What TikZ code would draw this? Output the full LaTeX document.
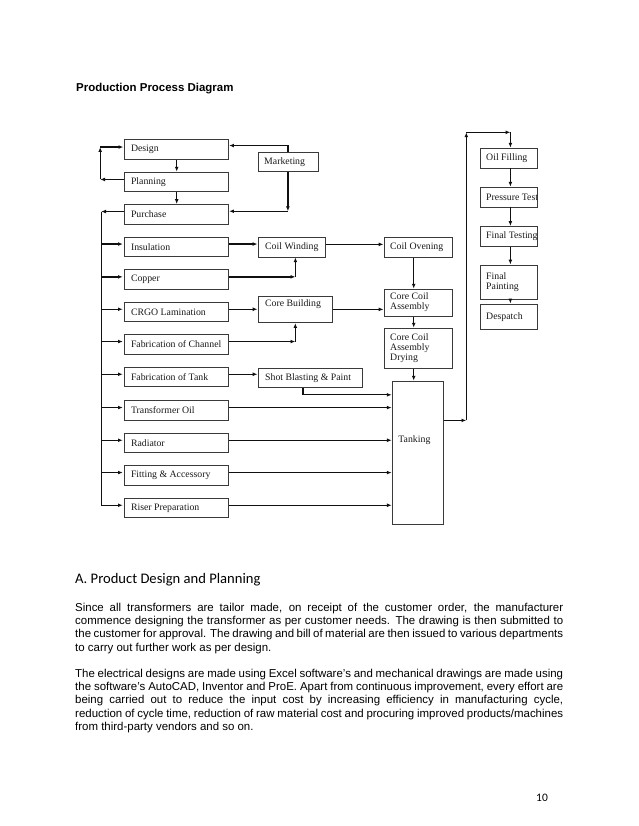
\documentclass[tikz,border=0pt]{standalone}
\usepackage{fontspec}
\setmainfont{Liberation Serif}
\newfontfamily\arialf{Liberation Sans}
\newfontfamily\calib{Carlito}
\usetikzlibrary{arrows.meta,calc}
\definecolor{boxc}{HTML}{3A3A3A}
\definecolor{linec}{HTML}{101010}
\definecolor{txtc}{HTML}{1A1A1A}
\newcommand\diafont{\fontsize{9.8}{10}\selectfont}
\newcommand\bx[6]{\node[box, minimum width=#4pt, minimum height=#5pt, label={[lab]west:{#6}}] (#1) at (#2,-#3) {};}
\newcommand\rbx[6]{\node[box, minimum width=#4pt, minimum height=#5pt, label={[rlab]west:{#6}}] (#1) at (#2,-#3) {};}
\begin{document}
\begin{tikzpicture}[x=1pt,y=1pt,
  box/.style={draw=boxc, line width=0.8pt, rectangle, inner sep=0pt, anchor=north west},
  lab/.style={anchor=west, xshift=6.5pt, inner sep=0pt, font=\diafont, text=txtc, align=left},
  rlab/.style={lab, xshift=-0.5pt},
  ln/.style={draw=linec, line width=1.3pt},
  arr/.style={ln, -{Latex[length=4.8pt,width=3.8pt]}},
  up/.style={transform canvas={yshift=2.7pt}}]
\fill[white] (0,0) rectangle (638,-826);
\useasboundingbox (0,0) rectangle (638,-826);

% texts
\node[anchor=base west, inner sep=0pt, font=\arialf\bfseries\fontsize{11.46}{13.2}\selectfont] (title) at (76,-92) {Production Process Diagram};
\node[anchor=base west, inner sep=0pt, font=\calib\fontsize{14.6}{17}\selectfont] (hA) at (75,-583) {A. Product Design and Planning};
\node[anchor=base west, inner sep=0pt, font=\arialf\fontsize{11.46}{13.2}\selectfont] (p1) at (75,-611.5) {\parbox[t]{488pt}{%
\makebox[\linewidth][s]{Since all transformers are tailor made, on receipt of the customer order, the manufacturer}\\
\makebox[\linewidth][s]{commence designing the transformer as per customer needs. The drawing is then submitted to}\\
\makebox[\linewidth][s]{the customer for approval. The drawing and bill of material are then issued to various departments}\\
to carry out further work as per design.}};
\node[anchor=base west, inner sep=0pt, font=\arialf\fontsize{11.46}{13.2}\selectfont] (p2) at (75,-677.5) {\parbox[t]{488pt}{%
\makebox[\linewidth][s]{The electrical designs are made using Excel software’s and mechanical drawings are made using}\\
\makebox[\linewidth][s]{the software’s AutoCAD, Inventor and ProE. Apart from continuous improvement, every effort are}\\
\makebox[\linewidth][s]{being carried out to reduce the input cost by increasing efficiency in manufacturing cycle,}\\
\makebox[\linewidth][s]{reduction of cycle time, reduction of raw material cost and procuring improved products/machines}\\
from third-party vendors and so on.}};
\node[anchor=base east, inner sep=0pt, font=\calib\fontsize{11.46}{13.2}\selectfont] (pg) at (548,-801) {10};

% left column
\bx{des}{124.3}{139.3}{104}{19.7}{Design}
\bx{pla}{124.3}{171.7}{104}{19.7}{Planning}
\bx{pur}{124.3}{204}{104}{19.7}{Purchase}
\bx{ins}{124.3}{236.5}{104}{19.7}{Insulation}
\bx{cop}{124.3}{269.3}{104}{19.7}{Copper}
\bx{crgo}{124.3}{301.7}{104}{19.7}{CRGO Lamination}
\bx{chan}{124.3}{334}{104}{19.7}{Fabrication of Channel}
\bx{ftank}{124.3}{366.7}{104}{19.7}{Fabrication of Tank}
\bx{toil}{124.3}{400}{104}{19.7}{Transformer Oil}
\bx{rad}{124.3}{432.7}{104}{19.7}{Radiator}
\bx{fit}{124.3}{465}{104}{19.7}{Fitting \& Accessory}
\bx{ris}{124.3}{497.7}{104}{19.7}{Riser Preparation}

% middle
\bx{mkt}{257.5}{151.7}{60}{19.8}{Marketing}
\node[box, minimum width=67.5pt, minimum height=19.9pt, label={[lab, xshift=1pt]west:Coil Winding}] (cw) at (257.5,-236.7) {};
\bx{cov}{383.5}{237.3}{68}{19.4}{Coil Ovening}
\node[box, minimum width=74.8pt, minimum height=26.6pt, label={[lab, anchor=north west, xshift=1pt, yshift=-3.5pt]north west:Core Building}] (cb) at (257.5,-295.7) {};
\bx{cca}{383.5}{288.7}{68}{27}{Core Coil\\Assembly}
\bx{dry}{383.5}{327.7}{68}{40}{Core Coil\\Assembly\\Drying}
\node[box, minimum width=104.2pt, minimum height=19.6pt, label={[lab, xshift=1pt]west:Shot Blasting \& Paint}] (shot) at (257.5,-367.7) {};
\node[box, minimum width=51.6pt, minimum height=143.6pt, label={[lab, anchor=center, xshift=-10pt, yshift=12.5pt]center:Tanking}] (tank) at (391.7,-380.7) {};

% right column
\rbx{oil}{480}{147.7}{56.7}{20}{Oil Filling}
\rbx{prt}{480}{186.7}{56.7}{20}{Pressure Test}
\rbx{ftest}{480}{226}{56.7}{19.7}{Final Testing}
\rbx{fpaint}{480}{264.5}{56.7}{34}{Final\\Painting}
\rbx{desp}{480}{303.5}{56.7}{25.5}{Despatch}

% connectors
\coordinate (bus) at (101.2,0);
\draw[arr] (des.south) -- (pla.north);
\draw[arr] (pla.south) -- (pur.north);
\coordinate (c1) at ($(bus |- pla.west)+(-1,2.5)$);
\coordinate (c2) at ($(bus |- des.west)+(-1,2.5)$);
\draw[arr] (pla.west |- c1) -- (c1);
\draw[arr] (c1) -- (c2);
\draw[arr] (c2) -- ([xshift=-1pt]des.west |- c2);
\draw[arr] (mkt.north) |- ($(des.east)+(0,4)$);
\coordinate (m1) at ($(mkt.south |- pur.east)+(0,3)$);
\draw[arr] (mkt.south) -- (m1);
\draw[arr] (m1) -- (pur.east |- m1);
\draw[arr,up] (pur.west) -- (pur.west -| bus);
\draw[ln,up] (pur.west -| bus) -- (ris.west -| bus);
\foreach \n in {ins,cop,crgo,chan,ftank,toil,rad,fit,ris}
  \draw[arr,up] (bus |- \n.west) -- ([xshift=-1.5pt]\n.west);

\draw[arr,up] (ins.east) -- (ins.east -| cw.west);
\draw[arr,up] (cw.east) -- (cw.east -| cov.west);
\coordinate (k1) at ($(cop.east -| cw.south)+(3.75,2.7)$);
\draw[arr] (cop.east |- k1) -- (k1);
\draw[arr] (k1) -- (k1 |- cw.south);
\draw[arr,up] (crgo.east) -- (crgo.east -| cb.west);
\coordinate (k2) at ($(chan.east -| cb.south)+(0,2.7)$);
\draw[arr] (chan.east |- k2) -- (k2);
\draw[arr] (k2) -- (k2 |- cb.south);
\draw[arr] (cb.east) -- (cb.east -| cca.west);
\draw[arr] ([xshift=-4.2pt]cov.south) -- ([xshift=-4.2pt]cca.north);
\draw[arr] ([xshift=-4.2pt]cca.south) -- ([xshift=-4.2pt]dry.north);
\draw[arr] ([xshift=-4.2pt]dry.south) -- ([xshift=-4.2pt]dry.south |- tank.north);
\draw[arr,up] (ftank.east) -- (ftank.east -| shot.west);
\coordinate (s1) at ($(shot.south)+(-6.9,-6.7)$);
\draw[ln] (shot.south -| s1) -- (s1);
\draw[arr] (s1) -- (s1 -| tank.west);
\foreach \n in {toil,rad,fit,ris}
  \draw[arr,up] (\n.east) -- (\n.east -| tank.west);

\coordinate (t1) at ($(tank.east)+(22.2,32.5)$);
\coordinate (t3) at ($(oil.north)+(1.65,15.4)$);
\coordinate (t2) at (t1 |- t3);
\draw[arr] (tank.east |- t1) -- (t1);
\draw[arr] (t1) -- (t2);
\draw[arr] (t2) -- (t3);
\draw[arr] (t3) -- (t3 |- oil.north);
\foreach \a/\b in {oil/prt, prt/ftest, ftest/fpaint, fpaint/desp}
  \draw[arr] ([xshift=1.65pt]\a.south) -- ([xshift=1.65pt]\b.north);
\end{tikzpicture}
\end{document}
